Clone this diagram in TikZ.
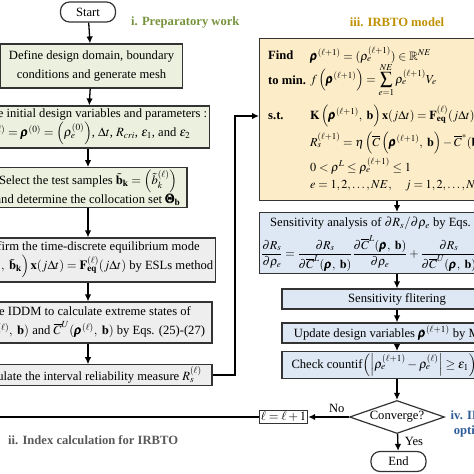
\documentclass[tikz,border=0pt]{standalone}
\usepackage{amsmath,amssymb}
\usepackage{mathptmx}
\usepackage{fontspec}
\setmainfont{Liberation Serif}
\usepackage{xcolor}
\usetikzlibrary{shapes.geometric,arrows.meta}

\definecolor{prepfill}{HTML}{EBF1DE}
\definecolor{indexfill}{HTML}{EEEEEE}
\definecolor{modelfill}{HTML}{FCEDC8}
\definecolor{optfill}{HTML}{DEE8F4}
\definecolor{preptext}{HTML}{76933C}
\definecolor{indextext}{HTML}{595959}
\definecolor{modeltext}{HTML}{BF9000}
\definecolor{opttext}{HTML}{2E5C9A}
\definecolor{edge}{HTML}{333333}

\newcommand{\brho}{\pmb{\rho}}

\begin{document}
\begin{tikzpicture}[x=1pt, y=-1pt, font=\fontsize{12.6}{19}\selectfont,
    box/.style={rectangle, draw=edge, line width=1.2pt, align=center, inner sep=2pt},
    prep/.style={box, fill=prepfill},
    index/.style={box, fill=indexfill},
    model/.style={box, fill=modelfill},
    opt/.style={box, fill=optfill},
    terminal/.style={rectangle, rounded corners=9pt, draw=edge, line width=1.2pt, fill=white, minimum width=55pt, minimum height=20pt, inner sep=1pt},
    decision/.style={diamond, aspect=2.9, draw=edge, line width=1.2pt, fill=white, minimum width=95pt, minimum height=33pt, inner sep=0pt},
    keyword/.style={anchor=west, inner sep=0pt, font=\fontsize{12.6}{14}\selectfont\bfseries},
    formula/.style={anchor=west, inner sep=0pt, font=\fontsize{12.2}{14}\selectfont},
    stage/.style={inner sep=0pt, font=\fontsize{12.6}{15}\selectfont\bfseries},
    flow/.style={-{Latex[length=7pt,width=6.5pt]}, line width=1.3pt, draw=black}]

    \useasboundingbox (0,0) rectangle (474,474);
    \clip (0,0) rectangle (474,474);

    % i. preparatory work
    \node[terminal] (start) at (88,12) {Start};
    \node[prep, minimum width=182pt, minimum height=44pt] (domain) at (91.5,66) {Define design domain, boundary\\conditions and generate mesh};
    \node[prep, minimum width=242pt, minimum height=42pt] (init) at (88,127) {Set the initial design variables and parameters :\\$\brho^{(\ell)}=\brho^{(0)}=\left(\rho_e^{(0)}\right)$,\ $\Delta t$,\ $R_{cri}$,\ $\varepsilon_1$,\ and $\varepsilon_2$};
    \node[prep, minimum width=198pt, minimum height=39pt] (samples) at (88,187.5) {Select the test samples $\tilde{\mathbf{b}}_{\mathbf{k}}=\left(\tilde{b}_k^{(\ell)}\right)$\\and determine the collocation set $\pmb{\Theta}_{\mathbf{b}}$};

    % ii. index calculation
    \node[index, minimum width=248pt, minimum height=44pt] (equil) at (88,260) {Confirm the time-discrete equilibrium mode\\$\mathbf{K}\left(\brho^{(\ell)},\ \tilde{\mathbf{b}}_{\mathbf{k}}\right)\mathbf{x}(j\Delta t)=\mathbf{F}_{\mathbf{eq}}^{(\ell)}(j\Delta t)$ by ESLs method};
    \node[index, minimum width=248pt, minimum height=41pt] (extreme) at (88,322.5) {Use IDDM to calculate extreme states of\\$\overline{C}^{L}(\brho^{(\ell)},\ \mathbf{b})$ and $\overline{C}^{U}(\brho^{(\ell)},\ \mathbf{b})$ by Eqs. (25)-(27)};
    \node[index, minimum width=248pt, minimum height=20pt] (measure) at (88,375) {Calculate the interval reliability measure $R_s^{(\ell)}$};

    % iii. IRBTO model
    \node[model, minimum width=276pt, minimum height=162pt, anchor=north west] (model) at (259,38) {};
    \node[keyword] (find) at (268,55) {Find};
    \node[formula] (findeq) at (310,55) {$\brho^{(\ell+1)}=(\rho_e^{(\ell+1)})\in\mathbb{R}^{NE}$};
    \node[keyword] (tomin) at (268,80) {to min.};
    \node[formula] (tomineq) at (310,80) {$f\left(\brho^{(\ell+1)}\right)=\displaystyle\sum_{e=1}^{NE}\rho_e^{(\ell+1)}V_e$};
    \node[keyword] (st) at (268,116) {s.t.};
    \node[formula] (steq) at (310,116) {$\mathbf{K}\left(\brho^{(\ell+1)},\ \mathbf{b}\right)\mathbf{x}(j\Delta t)=\mathbf{F}_{\mathbf{eq}}^{(\ell)}(j\Delta t)$};
    \node[formula] (reliab) at (310,143) {$R_s^{(\ell+1)}=\eta\left(\overline{C}\left(\brho^{(\ell+1)},\ \mathbf{b}\right)-\overline{C}^{*}(\mathbf{b})\right)$};
    \node[formula] (bounds) at (310,166) {$0<\rho^{L}\le\rho_e^{(\ell+1)}\le 1$};
    \node[formula] (ranges) at (310,186) {$e=1,2,\ldots,NE,\quad j=1,2,\ldots,N_T$};

    % iv. IRBTO optimization
    \node[opt, minimum width=276pt, minimum height=61pt, anchor=north west] (sens) at (259,212) {};
    \node[formula, font=\fontsize{12.6}{14}\selectfont] (senstitle) at (270,223) {Sensitivity analysis of $\partial R_s/\partial\rho_e$ by Eqs. (28)-(30)};
    \node[formula] (sensformula) at (261,254) {$\dfrac{\partial R_s}{\partial\rho_e}=\dfrac{\partial R_s}{\partial\overline{C}^{L}(\brho,\ \mathbf{b})}\dfrac{\partial\overline{C}^{L}(\brho,\ \mathbf{b})}{\partial\rho_e}+\dfrac{\partial R_s}{\partial\overline{C}^{U}(\brho,\ \mathbf{b})}\dfrac{\partial\overline{C}^{U}(\brho,\ \mathbf{b})}{\partial\rho_e}$};
    \node[opt, minimum width=230pt, minimum height=20pt] (filter) at (397,299) {Sensitivity flitering};
    \node[opt, minimum width=230pt, minimum height=20pt] (update) at (397,333) {Update design variables $\brho^{(\ell+1)}$ by MMA};
    \node[opt, minimum width=230pt, minimum height=20pt] (check) at (397,365) {Check countif$\left(\left|\rho_e^{(\ell+1)}-\rho_e^{(\ell)}\right|\ge\varepsilon_1\right)\le\varepsilon_2$};
    \node[decision] (conv) at (397,417) {Converge?};
    \node[box, fill=white, line width=1pt, inner sep=1.5pt, font=\fontsize{12.6}{14}\selectfont] (inc) at (283.5,417) {$\ell=\ell+1$};
    \node[terminal] (end) at (398.5,461.5) {End};
    \coordinate (loopout) at (-5,417);
    \coordinate (bend) at (235,116);

    \node[stage, text=preptext, anchor=west] (preplabel) at (131,22) {i. Preparatory work};
    \node[stage, text=indextext, anchor=west] (indexlabel) at (8,440) {ii. Index calculation for IRBTO};
    \node[stage, text=modeltext] (modellabel) at (397,22) {iii. IRBTO model};
    \node[stage, text=opttext, anchor=north west, align=left] (optlabel) at (450.5,411) {iv. IRBTO\\\ optimization};

    \draw[flow] (start) -- (domain);
    \draw[flow] (domain) -- (init);
    \draw[flow] (init) -- (samples);
    \draw[flow] (samples) -- (samples |- equil.north);
    \draw[flow] (equil) -- (extreme);
    \draw[flow] (extreme) -- (measure);
    \draw[flow] (measure.east) -| (bend) -- (bend -| model.west);
    \draw[flow] (model.south -| check) -- (sens.north -| check);
    \draw[flow] (sens.south -| check) -- (filter);
    \draw[flow] (filter) -- (update);
    \draw[flow] (update) -- (check);
    \draw[flow] (check) -- (conv);
    \draw[flow] (conv) -- node[above, pos=0.3] {No} (inc);
    \draw[line width=1.3pt] (inc) -- (loopout);
    \draw[flow] (conv) -- node[right=3pt, pos=0.45] {Yes} (end);

\end{tikzpicture}
\end{document}
